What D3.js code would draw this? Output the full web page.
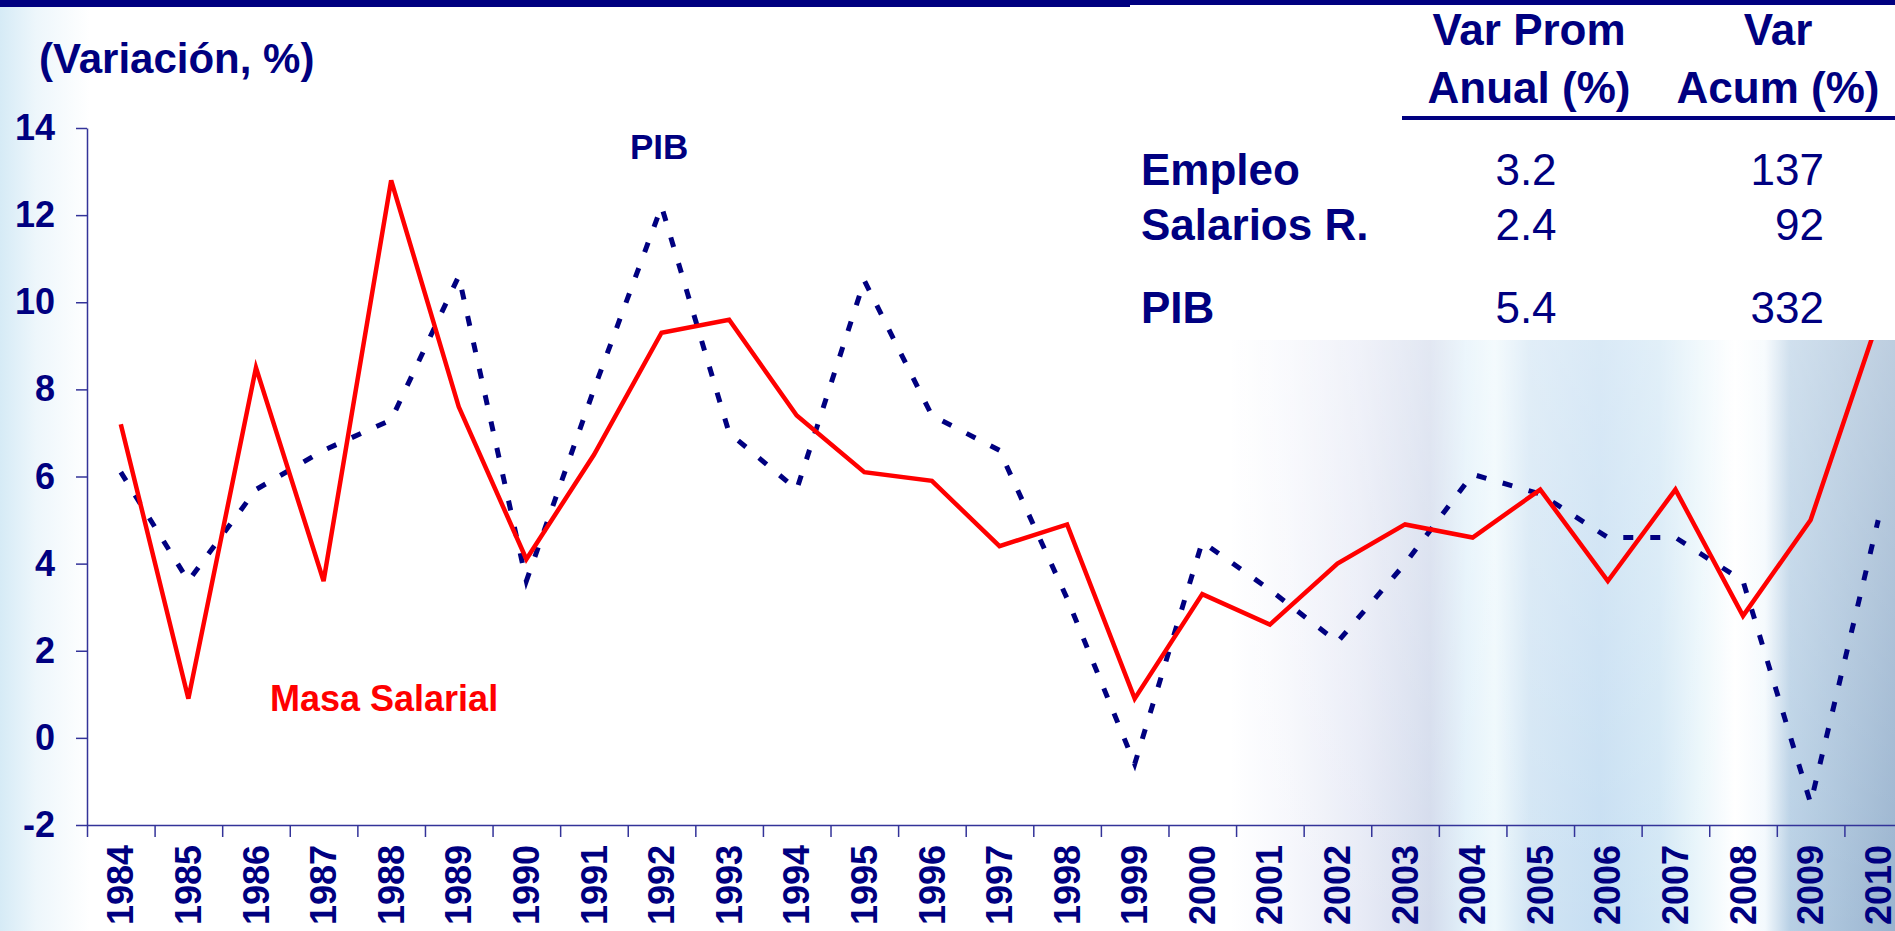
<!DOCTYPE html>
<html>
<head>
<meta charset="utf-8">
<script src="https://cdn.jsdelivr.net/npm/d3@7"></script>
<style>
  body { margin: 0; background: #fff; overflow: hidden; }
  text { font-family: "Liberation Sans", Arial, sans-serif; }
</style>
</head>
<body>
<script>
const W = 1895, H = 931;
const navy = '#000080', red = '#ff0000', axisColor = '#333399';

// data
const years = ['1984', '1985', '1986', '1987', '1988', '1989', '1990', '1991', '1992',
  '1993', '1994', '1995', '1996', '1997', '1998', '1999', '2000', '2001', '2002',
  '2003', '2004', '2005', '2006', '2007', '2008', '2009', '2010'];
const masaSalarial = [7.2, 0.9, 8.5, 3.6, 12.8, 7.6, 4.1, 6.5, 9.3, 9.6, 7.4, 6.1, 5.9,
  4.4, 4.9, 0.9, 3.3, 2.6, 4.0, 4.9, 4.6, 5.7, 3.6, 5.7, 2.8, 5.0, 9.6];
const pib = [6.1, 3.6, 5.7, 6.6, 7.3, 10.6, 3.6, 8.0, 12.2, 7.0, 5.7, 10.5, 7.4,
  6.6, 3.2, -0.6, 4.5, 3.4, 2.2, 4.0, 6.05, 5.6, 4.6, 4.6, 3.6, -1.5, 5.0];
const yTicks = [-2, 0, 2, 4, 6, 8, 10, 12, 14];

// summary table
const tableHeaders = [['Var Prom', 'Anual (%)'], ['Var', 'Acum (%)']];
const tableRows = ['Empleo', 'Salarios R.', 'PIB'];
const varProm = ['3.2', '2.4', '5.4'];
const varAcum = ['137', '92', '332'];

const svg = d3.select('body').append('svg')
  .attr('width', W)
  .attr('height', H);

const defs = svg.append('defs');

// background shading
let lg = defs.append('linearGradient').attr('id', 'leftFade')
  .attr('x1', 0).attr('x2', 1).attr('y1', 0).attr('y2', 0);
lg.append('stop').attr('offset', 0).attr('stop-color', '#c4e2f2').attr('stop-opacity', 0.7);
lg.append('stop').attr('offset', 0.4).attr('stop-color', '#c4e2f2').attr('stop-opacity', 0.3);
lg.append('stop').attr('offset', 1).attr('stop-color', '#c4e2f2').attr('stop-opacity', 0);

let rg = defs.append('linearGradient').attr('id', 'rightBg')
  .attr('gradientUnits', 'userSpaceOnUse')
  .attr('x1', 1230).attr('x2', 1895).attr('y1', 0).attr('y2', 0);
[[1230, '#ffffff'], [1290, '#f6f7fc'], [1360, '#e8ebf6'], [1430, '#d3dbec'],
 [1466, '#e2f1fa'], [1495, '#eef8fc'], [1530, '#d2e5f4'], [1600, '#c6def2'],
 [1660, '#d2e7f5'], [1700, '#eaf6fb'], [1735, '#ffffff'], [1765, '#f3f9fd'],
 [1790, '#b8d0e5'], [1895, '#9ab4cf']].forEach(s => {
  rg.append('stop').attr('offset', (s[0] - 1230) / 665).attr('stop-color', s[1]);
});

let vg = defs.append('linearGradient').attr('id', 'topFade')
  .attr('x1', 0).attr('x2', 0).attr('y1', 0).attr('y2', 1);
vg.append('stop').attr('offset', 0).attr('stop-color', '#fff').attr('stop-opacity', 0.35);
vg.append('stop').attr('offset', 1).attr('stop-color', '#fff').attr('stop-opacity', 0);

svg.append('rect').attr('x', 0).attr('y', 0).attr('width', 90).attr('height', H)
  .attr('fill', 'url(#leftFade)');
svg.append('rect').attr('x', 1230).attr('y', 330).attr('width', 665).attr('height', H - 330)
  .attr('fill', 'url(#rightBg)');
svg.append('rect').attr('x', 1230).attr('y', 330).attr('width', 665).attr('height', H - 330)
  .attr('fill', 'url(#topFade)');

// scales
const x = d3.scaleBand().domain(years).range([87, 1912]).padding(0);
const xEdge = d3.scaleLinear().domain([0, years.length]).range([87, 1912]);
const y = d3.scaleLinear().domain([-2, 14]).range([825, 128]);

// y axis
svg.append('g')
  .attr('transform', 'translate(87,0)')
  .call(d3.axisLeft(y).tickValues(yTicks).tickSize(11).tickSizeOuter(0).tickPadding(21)
    .tickFormat(d => String(d)))
  .call(g => g.select('.domain').attr('stroke', axisColor).attr('stroke-width', 1.5))
  .call(g => g.selectAll('.tick line').attr('stroke', axisColor).attr('stroke-width', 1.5))
  .call(g => g.selectAll('.tick text')
    .attr('fill', navy)
    .attr('font-size', 36)
    .attr('font-weight', 'bold')
    .attr('font-family', '"Liberation Sans", Arial, sans-serif'));

// x axis line and ticks between years
svg.append('g')
  .attr('transform', 'translate(0,825)')
  .call(d3.axisBottom(xEdge).tickValues(d3.range(0, years.length + 1))
    .tickSize(12).tickSizeOuter(0).tickFormat(''))
  .call(g => g.select('.domain').attr('stroke', axisColor).attr('stroke-width', 1.5))
  .call(g => g.selectAll('.tick line').attr('stroke', axisColor).attr('stroke-width', 1.5));

// x axis year labels
svg.append('g')
  .attr('transform', 'translate(0,825)')
  .call(d3.axisBottom(x).tickSize(0))
  .call(g => g.select('.domain').remove())
  .call(g => g.selectAll('.tick text')
    .attr('transform', 'rotate(-90)')
    .attr('x', -20)
    .attr('y', 0)
    .attr('dy', '0.35em')
    .attr('text-anchor', 'end')
    .attr('fill', navy)
    .attr('font-size', 36)
    .attr('font-weight', 'bold')
    .attr('font-family', '"Liberation Sans", Arial, sans-serif'));

// lines
const line = d3.line()
  .x((d, i) => x(years[i]) + x.bandwidth() / 2)
  .y(d => y(d))
  .curve(d3.curveLinear);

svg.append('path')
  .attr('d', line(pib))
  .attr('fill', 'none')
  .attr('stroke', navy)
  .attr('stroke-width', 5)
  .attr('stroke-dasharray', '10,17');

svg.append('path')
  .attr('d', line(masaSalarial))
  .attr('fill', 'none')
  .attr('stroke', red)
  .attr('stroke-width', 4.5)
  .attr('stroke-linejoin', 'miter');

// white panel behind the table
svg.append('rect').attr('x', 1130).attr('y', 0).attr('width', W - 1130).attr('height', 340)
  .attr('fill', '#fff');

// top bar
svg.append('rect').attr('x', 0).attr('y', 0).attr('width', 1130).attr('height', 7).attr('fill', navy);
svg.append('rect').attr('x', 1130).attr('y', 0).attr('width', W - 1130).attr('height', 5).attr('fill', navy);

// title and series labels
svg.append('text').text('(Variación, %)')
  .attr('x', 39).attr('y', 73)
  .attr('font-size', 42).attr('font-weight', 'bold').attr('fill', navy);

svg.append('text').text('PIB')
  .attr('x', 630).attr('y', 159)
  .attr('font-size', 35).attr('font-weight', 'bold').attr('fill', navy);

svg.append('text').text('Masa Salarial')
  .attr('x', 270).attr('y', 711)
  .attr('font-size', 36).attr('font-weight', 'bold').attr('fill', red);

// table
const colX = [1529, 1778];
tableHeaders.forEach((h, c) => {
  h.forEach((t, r) => {
    svg.append('text').text(t)
      .attr('x', colX[c]).attr('y', 45 + r * 58)
      .attr('text-anchor', 'middle')
      .attr('font-size', 44).attr('font-weight', 'bold').attr('fill', navy);
  });
});
svg.append('rect').attr('x', 1402).attr('y', 116).attr('width', W - 1402).attr('height', 4)
  .attr('fill', navy);

const rowY = [185, 240, 323];
tableRows.forEach((t, i) => {
  svg.append('text').text(t)
    .attr('x', 1141).attr('y', rowY[i])
    .attr('font-size', 44).attr('font-weight', 'bold').attr('fill', navy);
  svg.append('text').text(varProm[i])
    .attr('x', 1526).attr('y', rowY[i])
    .attr('text-anchor', 'middle')
    .attr('font-size', 44).attr('fill', navy);
  svg.append('text').text(varAcum[i])
    .attr('x', 1824).attr('y', rowY[i])
    .attr('text-anchor', 'end')
    .attr('font-size', 44).attr('fill', navy);
});
</script>
</body>
</html>
